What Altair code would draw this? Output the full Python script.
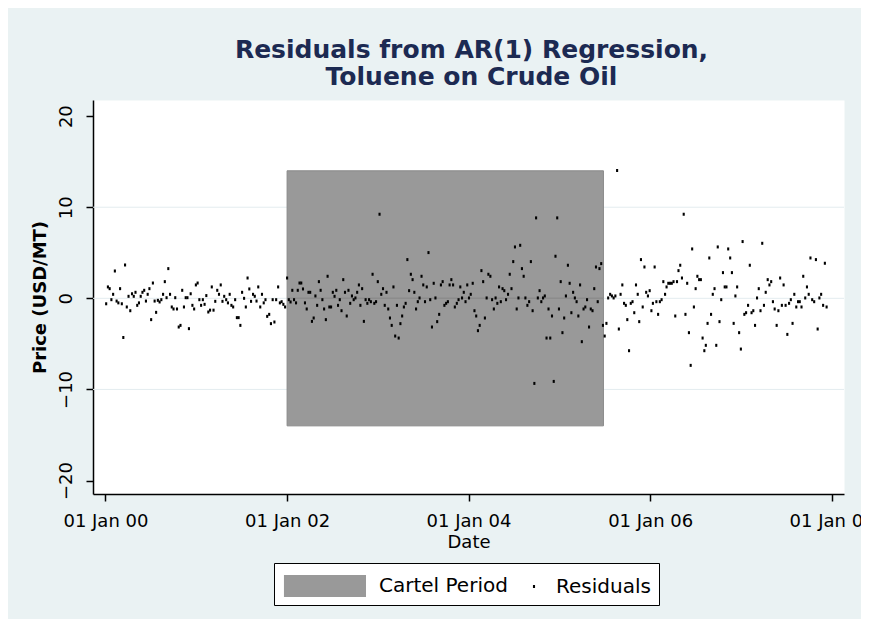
import altair as alt
import pandas as pd

# Residual values, in left-to-right order, one list per stretch of dates
seg1 = [-0.6, 1.25, 1.06, -0.15, 0.44, 3.0, -0.3, -0.5, 1.06, -0.6, -4.3, 3.66, -0.95, 0.22, -1.36, 0.5,
        0.22, 0.66, -0.77, -0.5, 0.22, 0.66, 0.88, -0.3, 0.44, 1.06, -2.34, 1.68, -0.3, -1.54, -0.22, -0.4,
        -0.15, 0.44, 1.83, 0.07, 3.26, 0.44, -0.95, -1.17, 0.07, -1.17, -3.15, -2.97, 0.88, -0.95, 0.07, 0.07,
        -3.33, 0.5, -0.77, -1.17, 1.47, 1.68, -0.15, -0.77, -0.15]
seg2 = [-0.66, 0.3, -1.5, -1.3, 1.25, -1.3, -0.33, 0.88, 0.44, 1.47, -0.33, 0.22, -0.15, -0.5, 0.44, -0.77,
        -0.95, -0.15, -2.12, -2.12, -2.97, 0.66, 0.0, -0.95, 2.23, 1.03, -0.33, 0.44, 0.22, -0.3, 1.25, -0.95,
        0.44, -0.5, -0.15, -1.98, -1.76, -2.78, -0.15, -2.6, -0.15, 1.25, -0.5, -0.37, -0.66, -0.95, 2.23, -0.15,
        -0.4, 0.88, -0.15, -0.5, 0.88, 1.68, 1.68, 1.03, -0.5, -1.17]
seg3 = [0.66, 0.66, -2.53, -2.16, 0.26, -0.77, 1.83, 0.88, -0.15, -1.17, -2.34, 2.42, -0.95, -0.95, 0.66, 0.22,
        0.88, -0.77, -0.15, -1.36, 2.05, 0.66, -1.94, 0.88, -0.55, 0.26, -0.15, 0.04, 0.66, 1.47, -0.77, 1.06,
        -2.53, -0.15, -0.55, -0.15, -0.37, 2.64, -0.55, -0.37, 1.83, 9.23, 0.44, 1.06, -0.77, 0.66, -1.17, -2.16,
        -2.97, 1.25, -4.14, -0.77, -4.36, -2.78, -1.94, -0.95, -0.55, 4.25, 0.84, 2.64]
seg4 = [2.05, 0.66, -1.17, -0.37, 0.04, 2.42, 1.47, -0.37, 1.25, 5.02, -0.15, -3.15, 1.65, 0.04, -2.56, -1.76,
        1.47, 1.83, -0.77, -0.55, -0.37, 1.47, 2.05, 1.47, -0.95, -0.55, -0.15, 1.25, 0.04, 0.66, -0.37, 1.47,
        0.04, 0.44, 1.65, -1.36, -1.94, -3.55, -2.97, 3.04, 1.83, -2.16, 0.04, 2.64, 2.42, -0.15, -1.17, 0.04,
        -0.55, 1.25, -0.37, 1.06, 0.84, -0.15, 0.44, 2.64, 1.06, 4.03, 5.64]
seg5 = [-1.17, 0.04, 5.82, 3.26, 2.42, 0.04, -0.77, -0.37, 4.03, -1.36, -9.34, 8.83, 0.04, 0.84, -0.37, 0.04,
        0.26, -4.36, -1.17, -4.36, -1.94, -9.12, 4.62, 8.83, -1.17, 1.83, -3.77, -2.16, 0.26, 3.63, 1.65, -1.58,
        0.66, 0.04, -0.37, -1.94, 1.47, -4.76, -1.17, -0.95, -0.15, -3.15, -1.17, -1.36, 1.06, 3.44, -0.37, 3.26,
        3.81, -2.97, -4.14, -2.75, 0.04, 0.44, 0.26, 0.04, 0.26, 14.03, -3.37]
seg6 = [0.44, 1.47, -0.55, -0.77, -2.34, -5.75, -0.55, -0.37, -1.58, 1.47, 0.44, -2.56, 4.25, -0.95, 3.44, 0.66,
        0.26, 0.84, -1.36, -0.55, 3.44, -0.37, -1.76, -0.37, -0.15, 1.83, 0.44, 1.25, 1.65, 1.65, 1.65, 1.83,
        -1.94, 1.83, 3.04, 3.63, 2.23, 9.23, -1.76, 1.65, -3.77, -7.36, 5.42, -0.95, 1.06, 2.42, 2.05, 2.05,
        -4.36, -5.75, -5.16, -2.75, 4.43, -1.76, 0.44, 1.06, -5.16, 5.64, -2.56, -0.15, 2.82]
seg7 = [1.25, 1.25, 5.42, 4.43, 2.82, -2.75, 0.26, 1.25, -3.77, -5.57, 6.23, -1.76, -1.58, -0.77, 3.63, -1.58,
        -1.36, -2.97, 0.04, 1.06, -1.36, 6.04, -0.77, 0.66, 2.05, 1.47, 1.83, -0.37, -1.17, -2.97, -1.36, 2.23,
        -0.77, 1.47, -0.77, -3.96, -0.55, -0.15, -2.75, 0.44, -0.95, -0.37, -0.37, -0.95, 2.42, 0.04, 1.25, 0.44,
        4.43, -0.15, -0.37, 4.25, -3.37, 0.04, 0.44, -0.77, 3.85, -0.95]
segments = [seg1, seg2, seg3, seg4, seg5, seg6, seg7]
# date range covered by each list (weekly observations spread across it)
seg_bounds = ["2000-01-01", "2001-01-31", "2002-03-25", "2003-05-18", "2004-07-10",
              "2005-09-01", "2006-10-25", "2007-12-16"]

cartel_start = "2002-01-01"
cartel_end = "2005-06-27"
cartel_tops = [14, -14]

series_names = ["Cartel Period", "Residuals"]
y_ticks = [-20, -10, 0, 10, 20]
grid_vals = [-10, 0, 10]
x_tick_years = [2000, 2002, 2004, 2006, 2008]

dates, vals = [], []
for k, seg in enumerate(segments):
    a = pd.Timestamp(seg_bounds[k])
    b = pd.Timestamp(seg_bounds[k + 1])
    n = len(seg)
    for i, v in enumerate(seg):
        dates.append((a + (b - a) * ((i + 0.5) / n)).strftime("%Y-%m-%d"))
        vals.append(v)
resid = pd.DataFrame({"date": dates, "resid": vals})

cartel = pd.DataFrame({"start": [cartel_start] * 2, "end": [cartel_end] * 2,
                       "top": cartel_tops, "base": [0, 0]})
grid = pd.DataFrame({"g": grid_vals})
legend_df = pd.DataFrame({"series": series_names})

FONT = "DejaVu Sans"
xscale = alt.Scale(type="utc",
                   domain=[alt.DateTime(year=1999, month=11, date=12, utc=True),
                           alt.DateTime(year=2008, month=2, date=20, utc=True)])
yscale = alt.Scale(domain=[-21.48, 21.77], nice=False, zero=False)

xaxis = alt.Axis(values=[alt.DateTime(year=y, month=1, date=1, utc=True) for y in x_tick_years],
                 labelExpr="utcFormat(datum.value, '%d %b %y')", title="Date", grid=False,
                 labelFlush=False, labelOverlap=False, labelBound=False,
                 labelFontSize=18, titleFontSize=18, titleFontWeight="normal",
                 tickSize=7, labelPadding=11, titlePadding=3)
yaxis = alt.Axis(values=y_ticks, title="Price (USD/MT)", grid=False,
                 labelAngle=270, labelAlign="center", labelBaseline="bottom",
                 labelFontSize=18, titleFontSize=18, titleFontWeight="bold",
                 tickSize=7, labelPadding=11, titlePadding=8)

grid_layer = alt.Chart(grid).mark_rule(color="#E3ECEF", strokeWidth=1).encode(
    y=alt.Y("g:Q", scale=yscale, axis=yaxis)
)

cartel_layer = alt.Chart(cartel).mark_rect(fill="#999999", stroke="#8A8A8A", strokeWidth=1).encode(
    x=alt.X("start:T", scale=xscale, axis=xaxis),
    x2="end:T",
    y=alt.Y("top:Q", scale=yscale),
    y2="base:Q",
)

point_layer = alt.Chart(resid).mark_point(
    shape="M-0.7,-1H0.7V1H-0.7Z", size=9, filled=True, color="black", opacity=1, strokeWidth=0
).encode(
    x=alt.X("date:T", scale=xscale),
    y=alt.Y("resid:Q", scale=yscale),
)

leg = alt.Legend(title=" ", titleOrient="left", titlePadding=54, titleFontSize=1,
                 orient="none", legendX=181, legendY=463, direction="horizontal")
legend_layer = alt.Chart(legend_df).mark_point(filled=True, clip=True, opacity=1).encode(
    x=alt.value(-1000),
    y=alt.value(-1000),
    color=alt.Color("series:N", scale=alt.Scale(domain=series_names, range=["#999999", "#000000"]), legend=leg),
    shape=alt.Shape("series:N", scale=alt.Scale(domain=series_names,
                                                range=["M-4.47,-0.733H1V0.733H-4.47Z",
                                                       "M0.33,-0.1H0.47V0.1H0.33Z"]), legend=leg),
)

chart = alt.layer(grid_layer, cartel_layer, point_layer, legend_layer).properties(
    width=751, height=394,
    padding={"left": 85, "top": 92, "right": 17, "bottom": 125},
    autosize=alt.AutoSizeParams(type="none"),
    title=alt.TitleParams(text=["Residuals from AR(1) Regression,", "Toluene on Crude Oil"],
                          font=FONT, fontSize=25, fontWeight="bold", color="#1C2A52",
                          anchor="middle", frame="group", offset=-15, dx=3, lineHeight=27,
                          baseline="bottom"),
).configure(background="#EAF2F3", font=FONT).configure_view(
    fill="white", stroke="transparent"
).configure_axis(
    labelFont=FONT, titleFont=FONT, labelColor="black", titleColor="black",
    domainColor="black", tickColor="black", domainWidth=1.5, tickWidth=1.5
).configure_legend(
    fillColor="white", strokeColor="black", padding=8, labelFont=FONT, labelFontSize=20,
    labelColor="black", labelOffset=13, columnPadding=5, symbolSize=900, symbolStrokeWidth=0,
    cornerRadius=0
)

chart.save("out.html", embed_options={"renderer": "svg", "actions": False})
